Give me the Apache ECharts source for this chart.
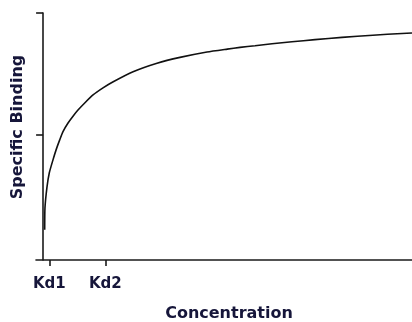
<!DOCTYPE html>
<html>
<head>
<meta charset="utf-8">
<script src="https://cdn.jsdelivr.net/npm/echarts@6/dist/echarts.min.js"></script>
<style>
html,body{margin:0;padding:0;background:#fff;}
#c{width:412px;height:322px;}
</style>
</head>
<body>
<div id="c"></div>
<script>
// Data (concentration in units where Kd1 = 1)
var concentration = [0.26, 0.3, 0.62, 1.0, 1.59, 2.13, 2.67, 3.2, 4.01, 4.81, 5.61, 6.69, 8.03, 9.63, 11.2, 14.46, 18.31, 22.0, 26.35, 29.6, 31.66, 34.07, 36.8, 40.0, 43.7, 48.05, 53.0, 57.7, 59.3];
var binding = [0.111, 0.2, 0.285, 0.345, 0.398, 0.442, 0.48, 0.514, 0.549, 0.577, 0.602, 0.631, 0.664, 0.693, 0.717, 0.759, 0.794, 0.818, 0.84, 0.852, 0.859, 0.866, 0.874, 0.882, 0.891, 0.9, 0.909, 0.916, 0.918];
var xTickValues = [1, 10];
var xTickLabels = ['Kd1', 'Kd2'];
var yTickValues = [0.5, 1];
var yTitle = 'Specific Binding';
var xTitle = 'Concentration';

var textColor = '#16163a';
var axisColor = '#1a1a1a';
var font = '"DejaVu Sans", sans-serif';

var pts = concentration.map(function (c, i) { return [c, binding[i]]; });

var chart = echarts.init(document.getElementById('c'), null, {renderer: 'canvas'});
chart.setOption({
  animation: false,
  backgroundColor: '#ffffff',
  grid: {left: 36, right: 0, top: 13, bottom: 62, containLabel: false},
  xAxis: {
    type: 'value',
    min: -1.14,
    max: 59.3,
    splitLine: {show: false},
    axisLine: {onZero: false, lineStyle: {color: axisColor, width: 1.6}},
    axisTick: {show: true, customValues: xTickValues, length: 6, lineStyle: {color: axisColor, width: 1.6}},
    axisLabel: {
      show: true,
      customValues: xTickValues,
      margin: 17,
      color: textColor,
      fontFamily: font,
      fontWeight: 'bold',
      fontSize: 15,
      formatter: function (v) {
        var i = xTickValues.indexOf(v);
        return i >= 0 ? xTickLabels[i] : '';
      }
    }
  },
  yAxis: {
    type: 'value',
    min: -0.0125,
    max: 1,
    splitLine: {show: false},
    axisLine: {onZero: true, lineStyle: {color: axisColor, width: 1.6}},
    axisTick: {show: true, customValues: yTickValues, length: 7, lineStyle: {color: axisColor, width: 1.6}},
    axisLabel: {show: false}
  },
  graphic: [
    {
      type: 'text',
      x: 18, y: 127,
      rotation: Math.PI / 2,
      style: {
        text: yTitle,
        fill: textColor,
        font: 'bold 16px "DejaVu Sans", sans-serif',
        textAlign: 'center',
        textVerticalAlign: 'middle'
      }
    },
    {
      type: 'text',
      x: 229, y: 314,
      style: {
        text: xTitle,
        fill: textColor,
        font: 'bold 16px "DejaVu Sans", sans-serif',
        textAlign: 'center',
        textVerticalAlign: 'middle'
      }
    }
  ],
  series: [{
    type: 'line',
    data: pts,
    showSymbol: false,
    smooth: 0.2,
    lineStyle: {color: '#111111', width: 1.6},
    silent: true
  }]
});
</script>
</body>
</html>
